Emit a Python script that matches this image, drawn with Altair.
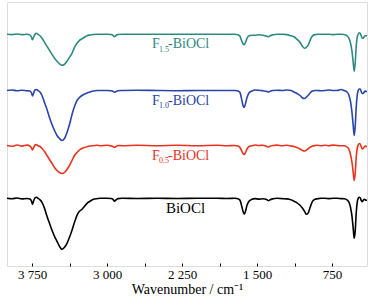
import altair as alt
import pandas as pd

# Wavenumber grid (cm-1), descending
WN = [4000, 3950, 3900, 3850, 3800, 3770, 3755, 3745, 3735, 3720, 3705, 3690, 3670, 3650,
      3625, 3600, 3575, 3550, 3525, 3500, 3475, 3450, 3425, 3400, 3375, 3350, 3325, 3300,
      3275, 3250, 3225, 3200, 3170, 3135, 3100, 3065, 3000, 2960, 2940, 2925, 2910, 2890,
      2850, 2700, 2500, 2300, 2100, 1900, 1800, 1720, 1690, 1670, 1655, 1640, 1628, 1615,
      1600, 1580, 1550, 1520, 1480, 1440, 1400, 1385, 1370, 1340, 1300, 1250, 1200, 1160,
      1130, 1100, 1070, 1045, 1025, 1005, 985, 965, 945, 920, 895, 860, 820, 780, 740, 700,
      660, 630, 600, 580, 565, 550, 538, 528, 518, 508, 498, 488, 478, 468, 458, 448, 438,
      428, 418, 408, 400]

# Relative transmittance (a.u., baseline = 0)
T_F15 = [0, -0.3, 0.3, -0.3, 0, -0.8, -3, -5.5, -3, 0, 1, 0, -1.5, -4,
         -8, -12, -16, -20, -24, -27, -29.5, -31, -30, -27, -23, -19, -13, -9,
         -6, -4.5, -3, -1.5, -0.7, -0.2, 0, 0, 0, -0.2, -1, -2.5, -1.2, -0.2,
         0, 0, 0, 0, 0, 0, 0, 0, -0.5, -2, -6, -9.5, -10.5, -8,
         -4, -1.5, -1, -1, -0.5, -1, -2, -2.5, -1.5, -0.5, 0, 0, -0.3, -1.5,
         -2.5, -5, -8, -12, -14, -13, -10, -5, -1.5, -0.3, 0, 0, 0, 0, -0.3, 0,
         0, -0.2, -1.5, -4, -9, -17, -28, -37, -29, -12, -3, 0, 1.5, 1, -1.5, -4, -4,
         -2.5, -1.5, -1.5, -1.5]

T_F10 = [0, 0.5, -0.3, 0.3, -0.3, -0.5, -2.5, -5.5, -3, 0.5, 1, 0, -1.5, -5,
         -12, -19, -27, -34, -40, -45, -48, -50, -48, -42, -34, -24, -16, -10,
         -7, -5, -3.5, -2.5, -1.5, -0.5, 0, 0, 0, -0.2, -0.8, -1.8, -1, -0.2,
         0, 0.3, 0, -0.2, 0, 0, 0, 0, -0.5, -2, -8, -15, -17, -13,
         -7, -2.5, -0.5, 0.5, 0.3, -0.3, -1, -1.5, -0.8, 0, 0.3, 0, 0.5, 0,
         -1.5, -3, -5, -7.5, -8, -6.5, -4.5, -2, -0.5, 0, 0, -0.3, 0, 0.5, 0, 0,
         1, 0, -1.5, -5, -11, -22, -35, -45, -36, -17, -5, 0, 1.5, 1.5, -1, -3, -3,
         -1.5, -0.5, -1, -1]

T_F05 = [0, -0.8, 0.5, -0.6, 0.4, -0.6, -2.5, -4.5, -2.5, 0.5, 1, -0.3, -1, -3,
         -6, -10, -14, -18, -22, -25, -27, -28, -27, -24, -20, -15, -10, -7,
         -4.5, -3, -2, -1.2, -0.5, -0.2, 0.3, -0.3, 0.2, -0.4, -1, -2, -1, 0,
         -0.3, 0.3, -0.3, 0.2, -0.3, 0.2, -0.3, 0, -0.5, -2, -5, -8, -9, -7,
         -3.5, -1, -0.3, 0.5, 0, 0.3, -1, -1.5, -0.8, 0, 0.4, -0.3, 0.2, -0.5,
         -1, -2, -3.5, -5, -5.5, -4.5, -3, -1.5, -0.5, 0, 0.3, -0.3, 0.3, -0.2, 0.4, 0,
         -0.3, -0.3, -1.5, -4, -9, -17, -27, -35, -28, -12, -3, 0.5, 2, 1.5, -1, -3.5, -3,
         -1.5, -0.5, -1, -1]

T_BIOCL = [0, -0.5, 0.3, -0.6, -0.2, -0.8, -3, -6, -3, 0.5, 1, 0, -1.5, -4,
           -10, -18, -25, -32, -38, -43, -48, -51, -49, -45, -39, -32, -24, -17,
           -13, -11, -8, -5, -3, -1, -0.4, 0, 0, -0.2, -1, -3, -1.5, -0.3,
           0, -0.2, 0, -0.2, 0, 0, -0.2, 0, -0.5, -2, -7, -13, -16, -13,
           -7, -3, -1, -0.3, -0.8, -0.5, -1.5, -2.5, -1.5, -0.5, 0, -0.3, -0.6, -1.5,
           -3, -4.5, -7, -10, -13, -16, -14, -8, -3, -1, -0.5, 0, 0, -0.3, 0, 0,
           -0.3, -0.5, -1.5, -4, -9, -18, -30, -40, -33, -15, -4, 0, 1, 0.5, -2, -3.5, -2,
           -1, -1.5, -2, -2]

SERIES = ["F1.5-BiOCl", "F1.0-BiOCl", "F0.5-BiOCl", "BiOCl"]
VALUES = [T_F15, T_F10, T_F05, T_BIOCL]
COLORS = ["#2e8a7f", "#2a44a8", "#e8341c", "#000000"]
# label pieces: main, subscript, rest
LAB_MAIN = ["F", "F", "F"]
LAB_SUB = ["1.5", "1.0", "0.5"]
LAB_REST = ["-BiOCl", "-BiOCl", "-BiOCl"]

# vertical stacking offsets (display only)
OFFSETS = [231.7, 175.5, 120.5, 67.7]

rows = []
for s, vals, off in zip(SERIES, VALUES, OFFSETS):
    for i, (w, v) in enumerate(zip(WN, vals)):
        rows.append({"series": s, "wn": w, "t": v + off, "idx": i})
df = pd.DataFrame(rows)

lab = pd.DataFrame({
    "series": SERIES[:3],
    "main": LAB_MAIN,
    "sub": LAB_SUB,
    "rest": LAB_REST,
    "y": [o - 14 for o in OFFSETS[:3]],
    "ysub": [o - 17.5 for o in OFFSETS[:3]],
    "wn": [2550] * 3,
})
lab_plain = pd.DataFrame({"series": ["BiOCl"], "txt": ["BiOCl"], "y": [OFFSETS[3] - 14.4], "wn": [2215]})

FONT = "Liberation Serif"
xscale = alt.Scale(domain=[400, 4000], reverse=True, nice=False, zero=False)
yscale = alt.Scale(domain=[0, 264], nice=False, zero=False)
cscale = alt.Scale(domain=SERIES, range=COLORS)

tick_vals = [3750, 3375, 3000, 2625, 2250, 1875, 1500, 1125, 750]

lines = alt.Chart(df).mark_line(strokeWidth=1.6, interpolate="monotone").encode(
    x=alt.X("wn:Q", scale=xscale,
            axis=alt.Axis(values=tick_vals, title="Wavenumber / cm\u207b\u00b9",
                          labelExpr="datum.value % 750 == 0 ? replace(format(datum.value, ','), ',', ' ') : ''",
                          domain=False, offset=-3, tickSize=3, tickColor="black", tickWidth=1,
                          labelPadding=2, labelFont=FONT, labelFontSize=13, labelColor="black",
                          titleFont=FONT, titleFontSize=14, titleFontWeight="normal",
                          titleColor="black", titlePadding=1, grid=False)),
    y=alt.Y("t:Q", scale=yscale, axis=None),
    color=alt.Color("series:N", scale=cscale, legend=None),
    detail="series:N",
    order="idx:Q",
)

t_main = alt.Chart(lab).mark_text(font=FONT, fontSize=14, align="left", baseline="alphabetic").encode(
    x=alt.X("wn:Q", scale=xscale), y=alt.Y("y:Q", scale=yscale),
    text="main:N", color=alt.Color("series:N", scale=cscale, legend=None))
t_sub = alt.Chart(lab).mark_text(font=FONT, fontSize=8, align="left", baseline="alphabetic", dx=7).encode(
    x=alt.X("wn:Q", scale=xscale), y=alt.Y("ysub:Q", scale=yscale),
    text="sub:N", color=alt.Color("series:N", scale=cscale, legend=None))
t_rest = alt.Chart(lab).mark_text(font=FONT, fontSize=14, align="left", baseline="alphabetic", dx=16).encode(
    x=alt.X("wn:Q", scale=xscale), y=alt.Y("y:Q", scale=yscale),
    text="rest:N", color=alt.Color("series:N", scale=cscale, legend=None))
t_plain = alt.Chart(lab_plain).mark_text(font=FONT, fontSize=15, align="center", baseline="alphabetic").encode(
    x=alt.X("wn:Q", scale=xscale), y=alt.Y("y:Q", scale=yscale),
    text="txt:N", color=alt.Color("series:N", scale=cscale, legend=None))

chart = alt.layer(lines, t_main, t_sub, t_rest, t_plain).properties(
    width=360, height=264,
    padding={"left": 7, "top": 2, "right": 7, "bottom": 41},
    autosize="none",
).configure_view(stroke="black", strokeWidth=1).configure(background="white")

chart.save("out.html", embed_options={"renderer": "svg", "actions": False})
